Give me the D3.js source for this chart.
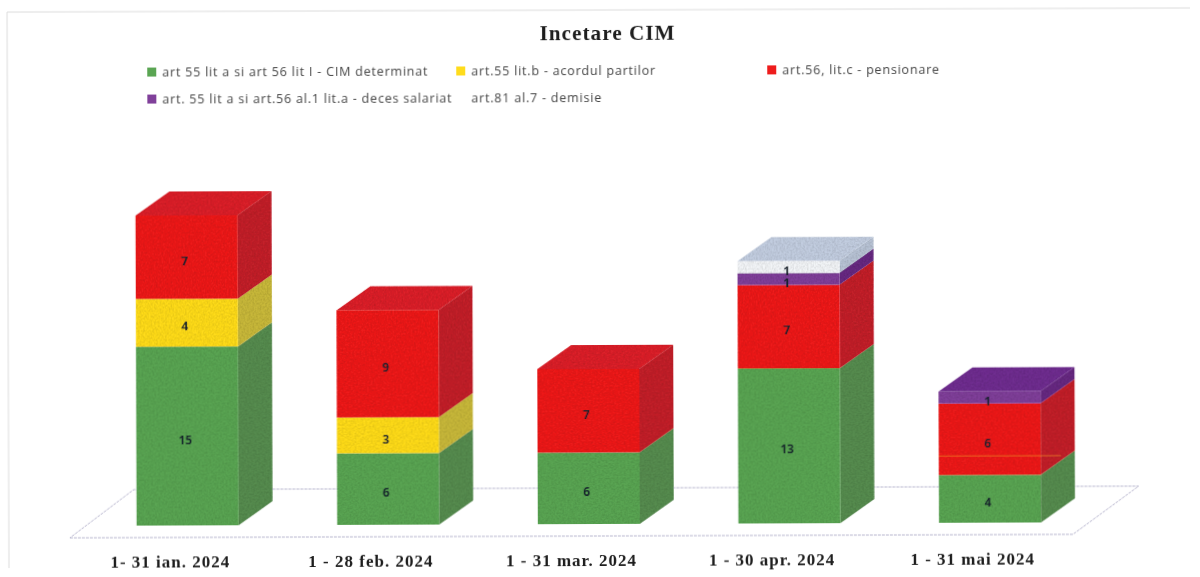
<!DOCTYPE html>
<html>
<head>
<meta charset="utf-8">
<script src="https://cdn.jsdelivr.net/npm/d3@7"></script>
<style>
  html, body { margin: 0; padding: 0; background: #fff; }
  svg { display: block; }
</style>
</head>
<body>
<svg id="chart" width="1200" height="577"></svg>
<script>
var chartTitle = "Incetare CIM";
var categories = ["1- 31 ian. 2024", "1 - 28 feb. 2024", "1 - 31 mar. 2024", "1 - 30 apr. 2024", "1 - 31 mai 2024"];
var seriesNames = [
    "art 55 lit a si art 56 lit I - CIM determinat",
    "art.55 lit.b - acordul partilor",
    "art.56, lit.c - pensionare",
    "art. 55 lit a si art.56 al.1 lit.a - deces salariat",
    "art.81 al.7 - demisie"
];
var determinat = [15, 6, 6, 13, 4];
var acord = [4, 3, 0, 0, 0];
var pensionare = [7, 9, 7, 7, 6];
var deces = [0, 0, 0, 1, 1];
var demisie = [0, 0, 0, 1, 0];

var frontColors = ["#5aa553", "#ffdc1c", "#ee1d1d", "#80409a", "#f3f5f8"];
var sideColors = ["#578c50", "#c8b83a", "#c3222b", "#682a82", "#b7c2d4"];
var topColors = ["#5aa553", "#d8c93c", "#dc2029", "#6f2e90", "#c2cde0"];

var svg = d3.select("#chart");
var depth_x = 34;
var depth_y = 24;
var bar_width = 102;

// scan look: a bit of grain on the bars, a bit of softness on everything
var defs = svg.append("defs");
var grain = defs.append("filter").attr("id", "grain")
    .attr("x", "0").attr("y", "0").attr("width", "1").attr("height", "1");
grain.append("feTurbulence")
    .attr("type", "fractalNoise")
    .attr("baseFrequency", "0.55")
    .attr("numOctaves", 2)
    .attr("seed", 4)
    .attr("result", "noise");
grain.append("feColorMatrix")
    .attr("in", "noise")
    .attr("type", "matrix")
    .attr("values", "0 0 0 0 0  0 0 0 0 0  0 0 0 0 0  0.5 0 0 0 -0.17")
    .attr("result", "dark");
grain.append("feComposite")
    .attr("in", "dark")
    .attr("in2", "SourceAlpha")
    .attr("operator", "in")
    .attr("result", "spots");
var grainMerge = grain.append("feMerge");
grainMerge.append("feMergeNode").attr("in", "SourceGraphic");
grainMerge.append("feMergeNode").attr("in", "spots");

defs.append("filter").attr("id", "soft")
    .append("feGaussianBlur").attr("stdDeviation", 0.35);

// the page was scanned a little crooked
var chart = svg.append("g")
    .attr("transform", "rotate(-0.2 600 288)")
    .attr("filter", "url(#soft)");

chart.append("path")
    .attr("d", "M8,566V10H1191")
    .attr("fill", "none")
    .attr("stroke", "#dcdcdc");

var x = d3.scaleBand().domain(categories).range([69, 1072]);
var y = d3.scaleLinear().domain([0, 26]).range([524, 214]);

// floor of the 3D plot
var floor_front = y(0) + 12;
var floor_back = y(0) - 36;
var floor = [[x.range()[0], floor_front], [x.range()[1], floor_front],
             [x.range()[1] + 66, floor_back], [x.range()[0] + 64, floor_back]];
chart.append("polygon")
    .attr("points", floor.join(" "))
    .attr("fill", "none")
    .attr("stroke", "#b9b7cf")
    .attr("stroke-dasharray", "3,1");

var rows = categories.map(function(c, i) {
    return { category: c, s0: determinat[i], s1: acord[i], s2: pensionare[i], s3: deces[i], s4: demisie[i] };
});
var stacked = d3.stack().keys(["s0", "s1", "s2", "s3", "s4"])(rows);

function barLeft(i) {
    return x(categories[i]) + (x.bandwidth() - bar_width) / 2 + 17.5;
}

function stackTop(i) {
    return d3.sum(stacked, function(s) { return s[i][1] - s[i][0]; });
}

var bars = chart.append("g").attr("filter", "url(#grain)");

stacked.forEach(function(serie, k) {
    var marks = bars.append("g").selectAll("g")
        .data(serie.filter(function(d) { return d[1] > d[0]; }))
        .enter().append("g");

    var index = function(d) { return categories.indexOf(d.data.category); };

    marks.append("polygon")
        .attr("fill", sideColors[k])
        .attr("points", function(d) {
            var r = barLeft(index(d)) + bar_width;
            return [[r, y(d[0])], [r + depth_x, y(d[0]) - depth_y],
                    [r + depth_x, y(d[1]) - depth_y], [r, y(d[1])]].join(" ");
        });

    marks.filter(function(d) { return d[1] === stackTop(index(d)); })
        .append("polygon")
        .attr("fill", topColors[k])
        .attr("points", function(d) {
            var l = barLeft(index(d));
            var t = y(d[1]);
            return [[l, t], [l + bar_width, t],
                    [l + bar_width + depth_x, t - depth_y], [l + depth_x, t - depth_y]].join(" ");
        });

    marks.append("rect")
        .attr("fill", frontColors[k])
        .attr("x", function(d) { return barLeft(index(d)); })
        .attr("y", function(d) { return y(d[1]); })
        .attr("width", bar_width)
        .attr("height", function(d) { return y(d[0]) - y(d[1]); });
});

// thin orange line that shows through the last red block in the original
var stray_value = 5.6;
chart.append("line")
    .attr("x1", barLeft(4))
    .attr("x2", barLeft(4) + bar_width + 20)
    .attr("y1", y(stray_value))
    .attr("y2", y(stray_value))
    .attr("stroke", "#f0802a")
    .attr("stroke-opacity", 0.7);

// value labels go on top of every bar
stacked.forEach(function(serie) {
    chart.append("g").selectAll("text")
        .data(serie.filter(function(d) { return d[1] > d[0]; }))
        .enter().append("text")
        .attr("x", function(d) { return barLeft(categories.indexOf(d.data.category)) + bar_width / 2 - 2; })
        .attr("y", function(d) { return (y(d[0]) + y(d[1])) / 2 + 8; })
        .attr("text-anchor", "middle")
        .attr("font-family", "'Open Sans', sans-serif")
        .attr("font-size", "12px")
        .attr("font-weight", "bold")
        .attr("fill", "#14202c")
        .text(function(d) { return d[1] - d[0]; });
});

var axis = chart.append("g")
    .attr("transform", "translate(0,554)")
    .call(d3.axisBottom(x).tickSize(0).tickPadding(0));
axis.select(".domain").remove();
axis.selectAll("text")
    .attr("font-family", "'Liberation Serif', serif")
    .attr("font-size", "17px")
    .attr("font-weight", "bold")
    .attr("letter-spacing", "1px")
    .attr("fill", "#1c1c1c");

chart.append("text")
    .attr("x", 608.5)
    .attr("y", 40)
    .attr("text-anchor", "middle")
    .attr("font-family", "'Liberation Serif', serif")
    .attr("font-size", "21px")
    .attr("font-weight", "bold")
    .attr("letter-spacing", "1.1px")
    .attr("fill", "#1c1c1c")
    .text(chartTitle);

var legend_x = [148, 457, 768, 148, 457];
var legend_y = [71, 71, 71, 98, 98];
var legend = chart.append("g").selectAll("g")
    .data(seriesNames)
    .enter().append("g")
    .attr("transform", function(d, i) { return "translate(" + legend_x[i] + "," + legend_y[i] + ")"; });

legend.append("rect")
    .attr("y", -5)
    .attr("width", 9)
    .attr("height", 9)
    .attr("fill", function(d, i) { return i === 4 ? "none" : frontColors[i]; });

legend.append("text")
    .attr("x", 15)
    .attr("y", 4)
    .attr("font-family", "'Open Sans', sans-serif")
    .attr("font-size", "12.5px")
    .attr("letter-spacing", "0.8px")
    .attr("fill", "#444")
    .text(function(d) { return d; });
</script>
</body>
</html>
